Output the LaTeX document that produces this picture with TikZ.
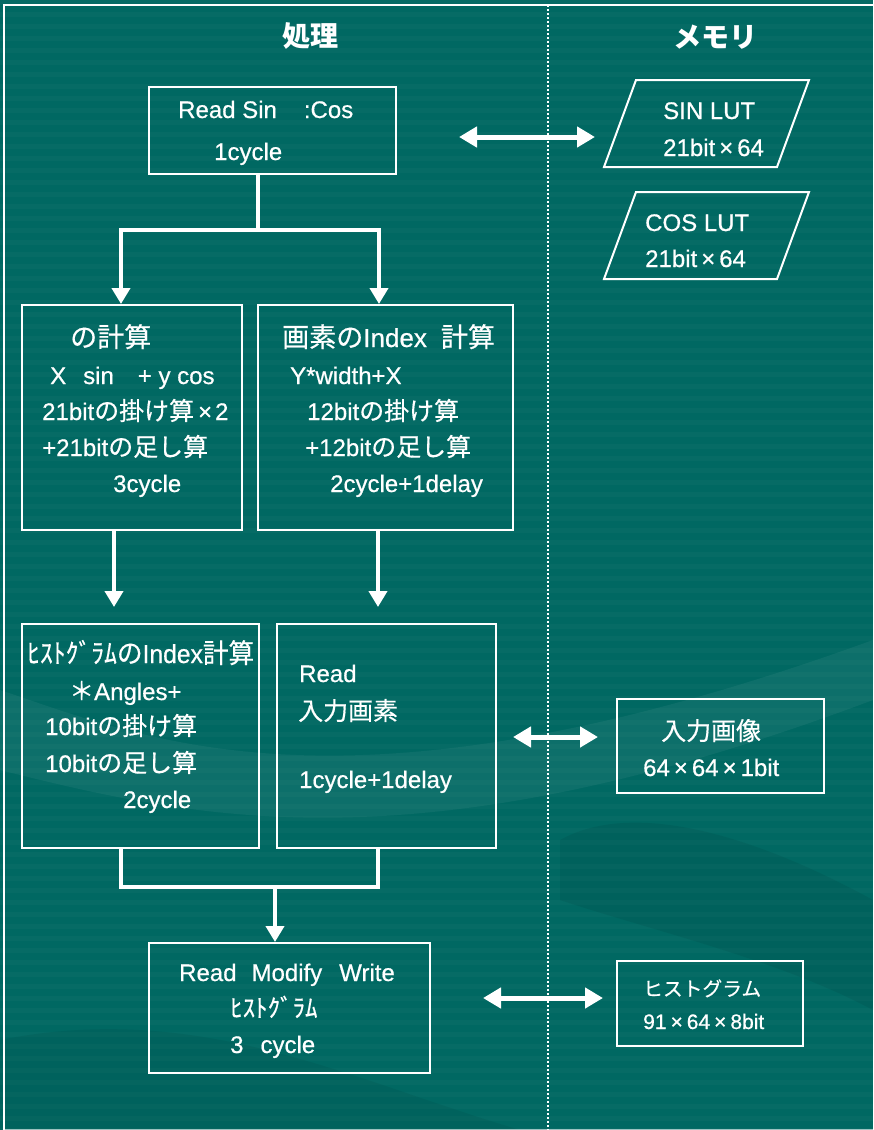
\documentclass[tikz,border=0pt]{standalone}
\usepackage{fontspec}
\usepackage{graphicx}
\setmainfont[FakeBold=0.6]{Liberation Sans}
\newfontfamily\jp[Scale=1.04,FakeBold=0.5]{Noto Sans CJK JP}
\newfontfamily\jpt[Scale=1.04]{Noto Sans CJK JP}
\usetikzlibrary{arrows.meta}
\definecolor{bg}{RGB}{0,104,98}
\newcommand\J[1]{{\jp #1}}
\newcommand\X{\hspace{4pt}×\hspace{4pt}}
\tikzset{
  wline/.style={white, line width=4pt},
  warr/.style={white, line width=4pt, -{Triangle[width=18pt,length=16pt]}},
  dbl/.style={white, line width=5pt, {Triangle[width=20pt,length=18pt]}-{Triangle[width=20pt,length=18pt]}},
  box/.style={draw=white, line width=2pt, inner sep=0pt},
  body/.style={font=\fontsize{24}{24}\selectfont, anchor=base west, inner sep=0pt, text=white, text height=18pt, text depth=5pt},
  head/.style={font=\fontsize{26}{26}\selectfont, anchor=base west, inner sep=0pt, text=white, text height=20pt, text depth=4pt},
  small/.style={font=\fontsize{21}{21}\selectfont, anchor=base west, inner sep=0pt, text=white, text height=16pt, text depth=4pt},
  title/.style={font=\fontsize{27}{27}\selectfont, anchor=center, inner sep=0pt, text=white}
}
\begin{document}
\begin{tikzpicture}[x=1pt,y=-1pt]
\useasboundingbox (0,0) rectangle (873,1130);
\fill[bg] (0,0) rectangle (873,1130);
% faint stripes
\foreach \yy in {0,12,...,1128} \fill[white,opacity=0.022] (0,\yy) rectangle (873,\yy+5);
% faint background waves
\fill[white,opacity=0.05] (0,690) .. controls (150,740) and (350,830) .. (873,640) -- (873,700) .. controls (420,870) and (200,820) .. (0,770) -- cycle;
\fill[black,opacity=0.06] (560,840) .. controls (650,790) and (800,860) .. (873,900) -- (873,1010) .. controls (780,960) and (650,930) .. (560,900) -- cycle;
\fill[black,opacity=0.05] (0,1040) .. controls (200,1000) and (350,1080) .. (520,1130) -- (0,1130) -- cycle;
% frame
\draw[white, line width=2pt] (873,5) -- (4,5) -- (4,1130);
\draw[white, line width=1pt, opacity=0.6] (4,1129) -- (873,1129);
\draw[white, line width=1.6pt, dash pattern=on 2pt off 2pt] (548,5) -- (548,1130);

% titles
\node[title] (t1) at (310.5,36) {{\jpt\bfseries 処理}};
\node[title] (t2) at (715.5,37) {{\jpt\bfseries メモリ}};

% boxes
\node[box, minimum width=247pt, minimum height=87pt] (box1) at (272.5,130.5) {};
\node[box, minimum width=220pt, minimum height=225pt] (box2) at (132,417.5) {};
\node[box, minimum width=255pt, minimum height=225pt] (box3) at (385.5,417.5) {};
\node[box, minimum width=237pt, minimum height=224pt] (box4) at (140.5,736) {};
\node[box, minimum width=219pt, minimum height=224pt] (box5) at (386.5,736) {};
\node[box, minimum width=281pt, minimum height=130pt] (box6) at (289.5,1008) {};
\node[box, minimum width=207pt, minimum height=94pt] (img) at (720.5,746) {};
\node[box, minimum width=186pt, minimum height=85pt] (hist) at (710,1003.5) {};
\draw[white, line width=2pt] (636,80) -- (809,80) -- (777,167) -- (604,167) -- cycle;
\draw[white, line width=2pt] (636,192) -- (809,192) -- (777,279) -- (604,279) -- cycle;

% box1 text
\node[body] (l11) at (178,118) {Read Sin\hspace{27pt}:Cos};
\node[body] (l12) at (214,160) {1cycle};
% box2 text
\node[head] (l21) at (70,347) {\J{の計算}};
\node[body] (l22) at (50,384) {X\hspace{17pt}sin\hspace{24pt}+ y cos};
\node[body] (l23) at (42,420) {21bit\J{の掛け算}\hspace{4pt}×\hspace{3pt}2};
\node[body] (l24) at (42,456) {+21bit\J{の足し算}};
\node[body] (l25) at (113,492) {3cycle};
% box3 text
\node[head] (l31) at (282,347) {\J{画素の}Index\hspace{14pt}\J{計算}};
\node[body] (l32) at (290,384) {Y*width+X};
\node[body] (l33) at (307,420) {12bit\J{の掛け算}};
\node[body] (l34) at (305,456) {+12bit\J{の足し算}};
\node[body] (l35) at (330,492) {2cycle+1delay};
% box4 text
\node[head] (l41) at (27,663) {\resizebox{227pt}{\height}{\J{ﾋｽﾄｸﾞﾗﾑの}Index\J{計算}}};
\node[body] (l42) at (69,700) {\J{＊}Angles+};
\node[body] (l43) at (45,735) {10bit\J{の掛け算}};
\node[body] (l44) at (45,772) {10bit\J{の足し算}};
\node[body] (l45) at (123,808) {2cycle};
% box5 text
\node[body] (l51) at (299,682) {Read};
\node[body] (l52) at (298,720) {\J{入力画素}};
\node[body] (l53) at (299,788) {1cycle+1delay};
% box6 text
\node[body] (l61) at (179,981) {Read\hspace{15pt}Modify\hspace{17pt}Write};
\node[body] (l62) at (230,1017) {\J{ﾋｽﾄｸﾞﾗﾑ}};
\node[body] (l63) at (230,1053) {3\hspace{17pt}cycle};
% memory text
\node[body] (m11) at (663,119) {SIN LUT};
\node[body] (m12) at (663,156) {21bit\X 64};
\node[body] (m21) at (645,231) {COS LUT};
\node[body] (m22) at (645,267) {21bit\X 64};
\node[body] (m31) at (661,740) {\J{入力画像}};
\node[body] (m32) at (643,776) {64\X 64\X 1bit};
\node[small, font=\fontsize{19}{19}\selectfont] (m41) at (643,996) {\J{ヒストグラム}};
\node[small] (m42) at (643,1029) {91\X 64\X 8bit};

% connectors
\coordinate (t1j) at (258,230);
\coordinate (tL) at (121,230);
\coordinate (tR) at (379,230);
\draw[wline] (box1.south -| t1j) -- (t1j);
\draw[wline, line cap=rect] (tL) -- (tR);
\draw[warr] (tL) -- (tL |- box2.north);
\draw[warr] (tR) -- (tR |- box3.north);
\coordinate (a2) at (114,607);
\coordinate (a3) at (378,607);
\draw[warr] (a2 |- box2.south) -- (a2);
\draw[warr] (a3 |- box3.south) -- (a3);
\coordinate (bL) at (121,887);
\coordinate (bR) at (378,887);
\coordinate (bM) at (275,887);
\draw[wline, line join=miter] (bL |- box4.south) -- (bL) -- (bR) -- (bR |- box5.south);
\draw[warr] (bM) -- (bM |- box6.north);
% memory access arrows
\coordinate (d1a) at (459,137); \coordinate (d1b) at (595,137);
\coordinate (d2a) at (513,737); \coordinate (d2b) at (598,737);
\coordinate (d3a) at (483,998); \coordinate (d3b) at (603,998);
\draw[dbl] (d1a) -- (d1b);
\draw[dbl] (d2a) -- (d2b);
\draw[dbl] (d3a) -- (d3b);
\end{tikzpicture}
\end{document}
